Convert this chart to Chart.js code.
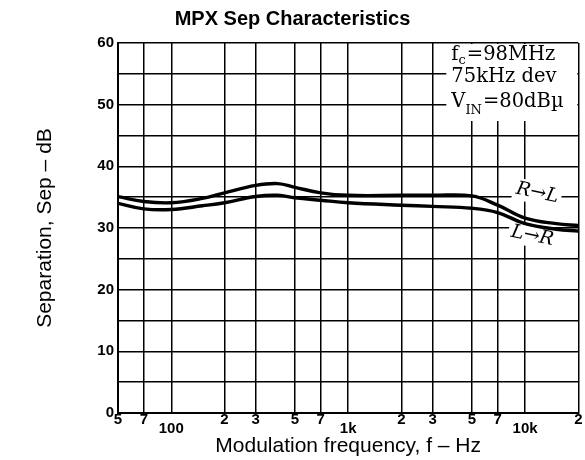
<!DOCTYPE html>
<html><head><meta charset="utf-8">
<script src="https://cdn.jsdelivr.net/npm/chart.js@4/dist/chart.umd.min.js"></script>
<style>html,body{margin:0;padding:0;background:#fff}#wrap{width:585px;height:460px;position:relative}</style>
</head><body><div id="wrap"><canvas id="c"></canvas></div>
<script>
// ---- data ----
const freqs   = [50, 70, 100, 150, 200, 300, 400, 500, 700, 1000, 2000, 3000, 5000, 7000, 10000, 15000, 20000];
const sepRtoL = [35.1, 34.3, 34.1, 34.8, 35.7, 36.9, 37.2, 36.6, 35.7, 35.3, 35.3, 35.3, 35.2, 33.7, 31.6, 30.7, 30.4];
const sepLtoR = [34.0, 33.1, 33.0, 33.6, 34.1, 35.1, 35.3, 34.9, 34.5, 34.1, 33.7, 33.5, 33.2, 32.5, 30.7, 29.8, 29.5];
const xTickValues = [50, 70, 100, 200, 300, 500, 700, 1000, 2000, 3000, 5000, 7000, 10000, 20000];
const xTickLabels = ['5', '7', '100', '2', '3', '5', '7', '1k', '2', '3', '5', '7', '10k', '2'];
const xDecadeLabels = ['100', '1k', '10k'];
const yTickLabelValues = [0, 10, 20, 30, 40, 50, 60];
const seriesNames = ['R\u2192L', 'L\u2192R'];
const titleText = 'MPX Sep Characteristics';
const xTitle = 'Modulation frequency, f \u2013 Hz';
const yTitle = 'Separation, Sep \u2013 dB';

Chart.defaults.color = '#000';
Chart.defaults.font.family = '"Liberation Sans", Arial, sans-serif';

const SANS = '"Liberation Sans", Arial, sans-serif';
const SERIF = '"DejaVu Serif", "Liberation Serif", serif';

const annotPlugin = {
  id: 'annot',
  beforeDatasetsDraw(chart) {
    const ctx = chart.ctx, a = chart.chartArea;
    ctx.save();
    // condition box
    const bx = a.right - 132, by = a.top + 1;
    ctx.fillStyle = '#fff';
    ctx.fillRect(bx, by, a.right - bx - 1, 77);
    ctx.fillStyle = '#000';
    ctx.textBaseline = 'alphabetic';
    ctx.textAlign = 'left';
    const big = '19.5px ' + SERIF, small = '13px ' + SERIF;
    let x = bx + 5, y = a.top + 17;
    ctx.font = big; ctx.fillText('f', x, y); x += ctx.measureText('f').width;
    ctx.font = small; ctx.fillText('c', x, y + 4); x += ctx.measureText('c').width + 1;
    ctx.font = big; ctx.fillText('=98MHz', x, y);
    x = bx + 5; y = a.top + 39;
    ctx.fillText('75kHz dev', x, y);
    y = a.top + 64;
    ctx.fillText('V', x, y); x += ctx.measureText('V').width;
    ctx.font = small; ctx.fillText('IN', x, y + 7); x += ctx.measureText('IN').width + 1;
    ctx.font = big; ctx.fillText('=80dB\u00b5', x, y);

    // series labels
    const lab = (txt, cx, cy) => {
      ctx.save();
      ctx.translate(cx, cy);
      ctx.rotate(12 * Math.PI / 180);
      ctx.font = 'italic 19px ' + SERIF;
      const w = ctx.measureText(txt).width;
      ctx.fillStyle = '#fff';
      ctx.fillRect(-w / 2 - 3, -11, w + 6, 22);
      ctx.fillStyle = '#000';
      ctx.textAlign = 'center';
      ctx.textBaseline = 'middle';
      ctx.fillText(txt, 0, 0);
      ctx.restore();
    };
    lab(seriesNames[0], a.right - 41, a.top + 150);
    lab(seriesNames[1], a.right - 46, a.top + 193);
    ctx.restore();
  }
};

const mk = (vals) => freqs.map((f, i) => ({x: f, y: vals[i]}));

new Chart(document.getElementById('c'), {
  type: 'line',
  data: {
    datasets: [
      {label: seriesNames[0], data: mk(sepRtoL), borderColor: '#000', borderWidth: 3.4, pointRadius: 0, tension: 0.4, fill: false},
      {label: seriesNames[1], data: mk(sepLtoR), borderColor: '#000', borderWidth: 3.4, pointRadius: 0, tension: 0.4, fill: false}
    ]
  },
  options: {
    responsive: true,
    maintainAspectRatio: false,
    animation: false,
    layout: {padding: {left: 0, right: 0, top: 0, bottom: 0}},
    plugins: {
      legend: {display: false},
      tooltip: {enabled: false},
      title: {display: true, text: titleText, color: '#000', font: {family: SANS, size: 20, weight: 'bold', lineHeight: 1.2}, padding: {top: 7, bottom: 12}}
    },
    scales: {
      x: {
        type: 'logarithmic',
        position: 'bottom',
        min: 50, max: 20000,
        afterBuildTicks(scale) { scale.ticks = xTickValues.map(v => ({value: v})); },
        afterFit(scale) { scale.height = 47; },
        ticks: {
          autoSkip: false, maxRotation: 0, padding: 2.5, color: '#000',
          font: {family: SANS, size: 15, weight: 'bold', lineHeight: 0.6},
          callback(value, index) {
            const i = xTickValues.indexOf(value);
            const t = i >= 0 ? xTickLabels[i] : '';
            return xDecadeLabels.includes(t) ? ['', t] : t;
          }
        },
        grid: {color: '#000', lineWidth: 1.5, drawTicks: false},
        border: {display: true, color: '#000', width: 2},
        title: {display: true, text: xTitle, color: '#000', font: {family: SANS, size: 21}, padding: {top: 0, bottom: 1}}
      },
      y: {
        type: 'linear',
        min: 0, max: 60,
        afterFit(scale) { scale.width = 118; },
        ticks: {
          stepSize: 5, autoSkip: false, padding: 4, color: '#000',
          font: {family: SANS, size: 15, weight: 'bold'},
          callback(value) { return yTickLabelValues.includes(value) ? String(value) : ''; }
        },
        grid: {color: '#000', lineWidth: 1.5, drawTicks: false},
        border: {display: true, color: '#000', width: 2},
        title: {display: true, text: yTitle, color: '#000', font: {family: SANS, size: 21}, padding: {top: 33, bottom: 0}}
      }
    }
  },
  plugins: [annotPlugin]
});
</script>
</body></html>
